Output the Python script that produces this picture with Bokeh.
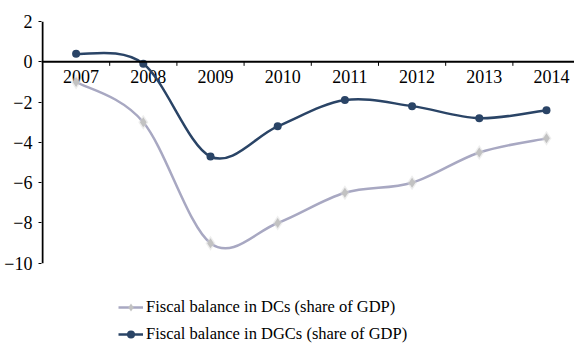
import numpy as np
from bokeh.plotting import figure
from bokeh.models import Span, FixedTicker, Legend, LegendItem, ColumnDataSource
from bokeh.core.properties import value
from bokeh.embed import file_html
from bokeh.resources import INLINE

# Fiscal balance, share of GDP (%)
years = ["2007", "2008", "2009", "2010", "2011", "2012", "2013", "2014"]
dcs_balance = [-1.0, -3.0, -9.0, -8.0, -6.5, -6.0, -4.5, -3.8]
dgcs_balance = [0.4, -0.1, -4.7, -3.2, -1.9, -2.2, -2.8, -2.4]
y_ticks = [-10, -8, -6, -4, -2, 0, 2]

dcs_label = "Fiscal balance in DCs (share of GDP)"
dgcs_label = "Fiscal balance in DGCs (share of GDP)"

FONT = "'Liberation Serif', 'Times New Roman', serif"
DC_LINE = "#a8a8c2"
DC_MARK = "#c2c2c2"
DGC_COLOR = "#2a4466"

xpos = list(range(len(years)))
y_lo, y_hi = min(y_ticks), max(y_ticks)


def smooth_pieces(xs, ys):
    """Cubic Bezier pieces joining consecutive points (Catmull-Rom tangents)."""
    x = np.asarray(xs, dtype=float)
    y = np.asarray(ys, dtype=float)
    xp = np.concatenate([[x[0]], x, [x[-1]]])
    yp = np.concatenate([[y[0]], y, [y[-1]]])
    return ColumnDataSource(dict(
        x0=x[:-1], y0=y[:-1], x1=x[1:], y1=y[1:],
        cx0=x[:-1] + (xp[2:-1] - xp[:-3]) / 6.0,
        cy0=y[:-1] + (yp[2:-1] - yp[:-3]) / 6.0,
        cx1=x[1:] - (xp[3:] - xp[1:-2]) / 6.0,
        cy1=y[1:] - (yp[3:] - yp[1:-2]) / 6.0,
    ))


# the frame runs down to the bottom edge so the legend can sit inside it
p = figure(
    width=574, height=344,
    x_range=(-0.5149, 7.417), y_range=(-14.03, 2),
    output_backend="svg", toolbar_location=None,
    min_border_left=41, min_border_right=0,
    min_border_top=21, min_border_bottom=0,
)
p.outline_line_color = None
p.xgrid.visible = False
p.ygrid.visible = False
p.xaxis.visible = False

yax = p.yaxis[0]
yax.ticker = FixedTicker(ticks=y_ticks)
yax.axis_line_color = None
yax.major_tick_line_color = "black"
yax.major_tick_line_width = 1
yax.major_tick_in = 0
yax.major_tick_out = 3
yax.minor_tick_line_color = None
yax.major_label_standoff = 6
yax.major_label_text_font = FONT
yax.major_label_text_font_size = "18px"
yax.major_label_text_color = "black"

# vertical value axis line, only over the ticked span
p.segment(x0=[-0.5], y0=[y_lo], x1=[-0.5], y1=[y_hi], line_color="black",
          line_width=2)

# horizontal category axis crossing at zero
p.add_layout(Span(location=0, dimension="width", line_color="black", line_width=2))
bounds = [i + 0.5 for i in xpos]
p.segment(x0=bounds, y0=[0] * len(bounds), x1=bounds, y1=[-0.2] * len(bounds),
          line_color="black", line_width=1)
p.text(x=xpos, y=[0] * len(years), text=years, text_align="center",
       text_baseline="top", x_offset=5, y_offset=8.5,
       text_font=value(FONT), text_font_size="18px", text_color="black")

# developed countries
dc_curve = p.bezier("x0", "y0", "x1", "y1", "cx0", "cy0", "cx1", "cy1",
                    source=smooth_pieces(xpos, dcs_balance),
                    line_color=DC_LINE, line_width=2.5)
p.scatter(xpos, dcs_balance, marker="diamond", size=15, fill_color="#d9d9d9",
          fill_alpha=0.45, line_color=None)
dc_marks = p.scatter(xpos, dcs_balance, marker="diamond", size=10,
                     fill_color=DC_MARK, line_color=None)

# developing countries
dgc_curve = p.bezier("x0", "y0", "x1", "y1", "cx0", "cy0", "cx1", "cy1",
                     source=smooth_pieces(xpos, dgcs_balance),
                     line_color=DGC_COLOR, line_width=2.5)
dgc_marks = p.scatter(xpos, dgcs_balance, marker="circle", size=8,
                      fill_color=DGC_COLOR, line_color=None)

legend = Legend(
    items=[LegendItem(label=dcs_label, renderers=[dc_curve, dc_marks]),
           LegendItem(label=dgcs_label, renderers=[dgc_curve, dgc_marks])],
    location=(77, 0), orientation="vertical",
    border_line_color=None, background_fill_alpha=0,
    padding=0, margin=0, spacing=7,
    glyph_width=25, glyph_height=20, label_height=20, label_standoff=3,
    label_text_font=FONT, label_text_font_size="16.5px", label_text_color="black",
)
p.add_layout(legend)

open("out.html", "w").write(file_html(p, INLINE))
